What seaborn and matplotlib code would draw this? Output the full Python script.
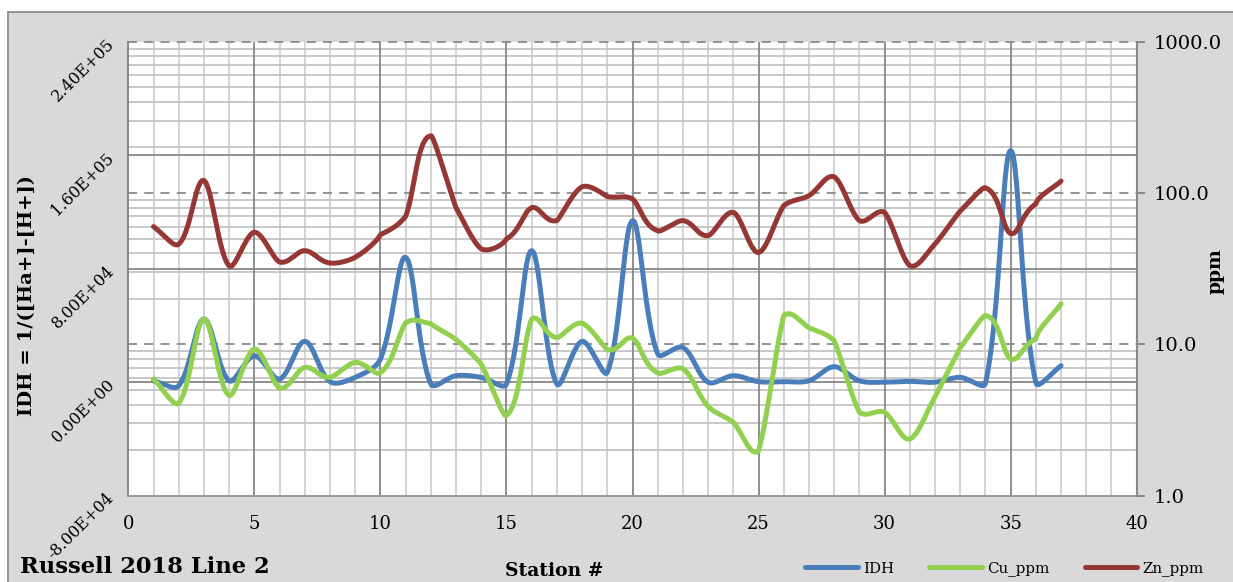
import numpy as np
import pandas as pd
import matplotlib
matplotlib.use("Agg")
import matplotlib.pyplot as plt
import seaborn as sns
from matplotlib.patches import Rectangle
from matplotlib.ticker import FixedLocator, FuncFormatter, NullLocator

# ---- data ---------------------------------------------------------------
stations = list(range(1, 38))

idh = [1000, -2500, 44500, 1000, 18700, 2250, 28800, 400, 3400, 16300,
       88000, -1300, 4600, 3400, -1300, 92700, -1300, 28800, 6900, 113800,
       19900, 24500, 0, 4600, 400, 400, 1000, 10900, 1000, 0,
       600, 0, 3400, -800, 163200, -300, 11600]

cu_ppm = [5.9, 4.1, 14.7, 4.6, 9.3, 5.15, 7.05, 6.05, 7.6, 6.5,
          13.9, 13.7, 10.8, 7.4, 3.4, 14.7, 11.1, 13.8, 9.2, 11.0,
          6.5, 6.9, 3.9, 3.05, 1.98, 15.5, 12.9, 10.6, 3.56, 3.56,
          2.37, 4.5, 9.5, 15.5, 8.0, 10.9, 18.5]

zn_ppm = [60, 46, 121, 33, 55, 35, 41.6, 34.5, 37.6, 53,
          70, 239, 80, 42.7, 49.7, 80, 65.7, 110, 94.7, 91.4,
          56.4, 65.7, 52.3, 74.5, 40.5, 82.6, 96.2, 128, 65.7, 74.5,
          33.1, 46, 76, 108, 54, 84.7, 120]

left_ticks = [-8e4, 0, 8e4, 1.6e5, 2.4e5]
right_ticks = [1, 10, 100, 1000]
x_ticks = list(range(0, 41, 5))

BLUE, GREEN, RED = "#4a7ebb", "#92d050", "#953735"
MAJOR_GRID, MINOR_GRID = "#878787", "#d3d3d3"

# figure geometry (pixels)
W, H = 1233, 582
left, right, top, bottom = 128.3, 1136.7, 41.7, 495.7
PX_PER_STATION = (right - left) / (x_ticks[-1] - x_ticks[0])
PX_PER_IDH = (bottom - top) / (left_ticks[-1] - left_ticks[0])
PX_PER_DECADE = (bottom - top) / np.log10(right_ticks[-1] / right_ticks[0])


def smooth_curve(x, y, kx, ky, n=30):
    """Smoothed Bezier path through every point.

    Tangents follow the neighbouring points; each handle is scaled by the
    relative length of the adjacent segments (measured on screen), which
    keeps flat stretches next to steep peaks from overshooting.
    """
    P = np.column_stack([np.asarray(x, float) * kx, np.asarray(y, float) * ky])
    t = np.linspace(0, 1, n, endpoint=False)[:, None]
    out = []
    for i in range(len(P) - 1):
        p0 = P[i - 1] if i > 0 else P[i]
        p1, p2 = P[i], P[i + 1]
        p3 = P[i + 2] if i + 2 < len(P) else P[i + 1]
        d01 = np.hypot(*(p1 - p0))
        d12 = np.hypot(*(p2 - p1))
        d23 = np.hypot(*(p3 - p2))
        f1 = d12 / (d01 + d12) / 3.0 if d01 + d12 > 0 else 0.0
        f2 = d12 / (d12 + d23) / 3.0 if d12 + d23 > 0 else 0.0
        b1 = p1 + (p2 - p0) * f1
        b2 = p2 - (p3 - p1) * f2
        seg = ((1 - t) ** 3) * p1 + 3 * ((1 - t) ** 2) * t * b1 \
            + 3 * (1 - t) * t ** 2 * b2 + t ** 3 * p2
        out.append(seg)
    out.append(P[-1:])
    c = np.vstack(out)
    return c[:, 0] / kx, c[:, 1] / ky


sx, s_idh = smooth_curve(stations, idh, PX_PER_STATION, PX_PER_IDH)
_, s_cu = smooth_curve(stations, np.log10(cu_ppm), PX_PER_STATION, PX_PER_DECADE)
_, s_zn = smooth_curve(stations, np.log10(zn_ppm), PX_PER_STATION, PX_PER_DECADE)
curves = pd.DataFrame({"station": sx, "IDH": s_idh,
                       "Cu_ppm": 10 ** s_cu, "Zn_ppm": 10 ** s_zn})

# ---- figure ---------------------------------------------------------------
sns.set_theme(style="white")
plt.rcParams["font.family"] = ["DejaVu Serif"]
plt.rcParams["text.color"] = "black"
plt.rcParams["axes.labelcolor"] = "black"
plt.rcParams["xtick.color"] = "black"
plt.rcParams["ytick.color"] = "black"

fig = plt.figure(figsize=(W / 100, H / 100), dpi=100, facecolor="white")
fig.patches.append(Rectangle((8.3 / W, -0.05), 1.1, 570.3 / H + 0.05,
                             transform=fig.transFigure, facecolor="#d9d9d9",
                             edgecolor="#8c8c8c", lw=1.3, zorder=-1))

ax = fig.add_axes([left / W, 1 - bottom / H, (right - left) / W, (bottom - top) / H])
ax.set_facecolor("white")
ax.set_xlim(x_ticks[0], x_ticks[-1])
ax.set_ylim(left_ticks[0], left_ticks[-1])

ax2 = ax.twinx()
ax2.set_yscale("log")
ax2.set_ylim(right_ticks[0], right_ticks[-1])
ax2.patch.set_visible(False)

# grid: all lines live in the primary axes, under every series
for xv in range(x_ticks[0], x_ticks[-1] + 1):
    if xv % 5:
        ax.axvline(xv, color=MINOR_GRID, lw=1.4, zorder=0.5)
decades = np.log10(right_ticks[-1] / right_ticks[0])
for dec in right_ticks[:-1]:
    for m in range(2, 10):
        f = np.log10(dec * m / right_ticks[0]) / decades
        ax.plot([0, 1], [f, f], transform=ax.transAxes, color="#c4c4c4",
                lw=1.3, zorder=0.6)
for xv in x_ticks[1:-1]:
    ax.axvline(xv, color=MAJOR_GRID, lw=1.3, zorder=0.8)
for yv in left_ticks[1:-1]:
    ax.axhline(yv, color=MAJOR_GRID, lw=1.3, zorder=0.8)
for dec in right_ticks[1:]:
    f = np.log10(dec / right_ticks[0]) / decades
    ax.plot([0, 1], [f, f], transform=ax.transAxes, color="#8a8a8a",
            lw=1.3, ls=(0, (5, 4)), zorder=0.9, clip_on=False)

# series
sns.lineplot(data=curves, x="station", y="IDH", ax=ax, color=BLUE, lw=3.6,
             estimator=None, sort=False, label="IDH", legend=False, zorder=3)
sns.lineplot(data=curves, x="station", y="Cu_ppm", ax=ax2, color=GREEN, lw=3.6,
             estimator=None, sort=False, label="Cu_ppm", legend=False, zorder=3)
sns.lineplot(data=curves, x="station", y="Zn_ppm", ax=ax2, color=RED, lw=3.6,
             estimator=None, sort=False, label="Zn_ppm", legend=False, zorder=4)

# axes styling
for a in (ax, ax2):
    a.set_xlabel("")
    a.set_ylabel("")
    a.spines["top"].set_visible(False)
ax.spines["left"].set_color(MAJOR_GRID)
ax.spines["left"].set_linewidth(1.4)
ax.spines["bottom"].set_color("#9a9a9a")
ax.spines["bottom"].set_linewidth(1.4)
ax.spines["right"].set_visible(False)
ax2.spines["left"].set_visible(False)
ax2.spines["bottom"].set_visible(False)
ax2.spines["right"].set_color(MAJOR_GRID)
ax2.spines["right"].set_linewidth(1.5)

ax.xaxis.set_major_locator(FixedLocator(x_ticks))
ax.tick_params(axis="x", length=0, pad=14, labelsize=13, labelcolor="black")

ax.yaxis.set_major_locator(FixedLocator(left_ticks))
ax.yaxis.set_major_formatter(FuncFormatter(lambda v, p: f"{v:.2E}"))
ax.tick_params(axis="y", length=0, pad=12, labelsize=11.5, labelcolor="black")
for lbl in ax.get_yticklabels():
    lbl.set_rotation(45)
    lbl.set_rotation_mode("anchor")
    lbl.set_horizontalalignment("right")
    lbl.set_verticalalignment("center")

ax2.yaxis.set_major_locator(FixedLocator(right_ticks))
ax2.yaxis.set_minor_locator(NullLocator())
ax2.yaxis.set_major_formatter(FuncFormatter(lambda v, p: f"{v:.1f}"))
ax2.tick_params(axis="y", which="major", length=6, width=1.4, color=MAJOR_GRID,
                pad=6, labelsize=14, labelcolor="black")

# texts
fig.text(27 / W, 1 - 295 / H, "IDH = 1/([Ha+]-[H+])", rotation=90,
         ha="center", va="center", fontsize=14, fontweight="bold")
fig.text(1216 / W, 1 - 271 / H, "ppm", rotation=90, ha="center", va="center",
         fontsize=13.5, fontweight="bold")
fig.text(554 / W, 1 - 571 / H, "Station #", ha="center", va="center",
         fontsize=13.5, fontweight="bold")
fig.text(20 / W, 1 - 567 / H, "Russell 2018 Line 2", ha="left", va="center",
         fontsize=16.3, fontweight="bold")

h1, l1 = ax.get_legend_handles_labels()
h2, l2 = ax2.get_legend_handles_labels()
fig.legend(h1 + h2, l1 + l2, loc="center left",
           bbox_to_anchor=(805 / W, 1 - 569 / H), ncol=3, frameon=False,
           fontsize=10.8, handlelength=3.5, handletextpad=0.35,
           columnspacing=2.35, borderpad=0, borderaxespad=0)

fig.savefig("out.png", dpi=100, facecolor=fig.get_facecolor())
